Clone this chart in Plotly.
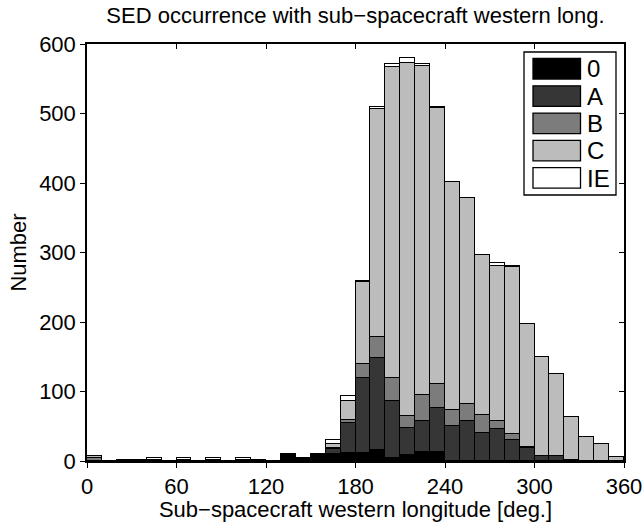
import plotly.graph_objects as go

# ---------------- data ----------------
bin_left = list(range(0, 360, 10))
bin_centers = [b + 5 for b in bin_left]
classes = ["0", "A", "B", "C", "IE"]
colors = ["#000000", "#363636", "#7c7c7c", "#bcbcbc", "#ffffff"]

n0 = [0, 0, 0, 0, 0, 0, 0, 0, 0, 0, 0, 0, 0, 10, 5, 10, 10, 12, 11, 16,
      5, 9, 13, 13, 0, 0, 0, 0, 0, 0, 0, 0, 0, 0, 0, 0]
nA = [0, 0, 1, 1, 0, 0, 0, 0, 0, 0, 0, 0, 0, 0, 0, 0, 7, 43, 108, 132,
      81, 38, 45, 63, 51, 58, 41, 46, 30, 19, 7, 7, 2, 0, 0, 0]
nB = [4, 0, 0, 0, 0, 0, 0, 0, 0, 0, 0, 2, 0, 0, 0, 0, 2, 4, 20, 30,
      34, 18, 37, 35, 23, 24, 25, 12, 9, 1, 0, 0, 0, 0, 0, 0]
nC = [3, 0, 0, 0, 1, 0, 1, 0, 1, 0, 1, 0, 0, 0, 0, 0, 5, 28, 118, 328,
      447, 507, 474, 397, 327, 296, 230, 223, 240, 177, 142, 118, 62, 34, 25, 6]
nIE = [0, 0, 0, 0, 3, 0, 3, 0, 3, 0, 3, 0, 0, 0, 0, 0, 6, 6, 2, 3,
       4, 8, 2, 1, 0, 0, 1, 4, 1, 0, 0, 0, 0, 0, 0, 0]
series = [n0, nA, nB, nC, nIE]

x_ticks = [0, 60, 120, 180, 240, 300, 360]
y_ticks = [0, 100, 200, 300, 400, 500, 600]

title_text = "SED occurrence with sub−spacecraft western long."
x_title = "Sub−spacecraft western longitude [deg.]"
y_title = "Number"

FONT = "Liberation Sans, Arial, Helvetica, sans-serif"
FS = 22

fig = go.Figure()
for name, col, vals in zip(classes, colors, series):
    fig.add_trace(go.Bar(
        x=bin_centers, y=vals, name=name, width=10,
        marker=dict(color=col, line=dict(color="black", width=1.3)),
        showlegend=False,
    ))

# dummy trace for mirrored (inside-tick) axes
fig.add_trace(go.Scatter(x=[None], y=[None], xaxis="x2", yaxis="y2",
                         showlegend=False, hoverinfo="skip"))

axis_common = dict(showgrid=False, zeroline=False, showline=True,
                   linecolor="black", linewidth=1.5, tickcolor="black",
                   tickwidth=1.3, ticklen=5, automargin=False)

fig.update_layout(
    width=644, height=522,
    margin=dict(l=87, r=20, t=44, b=61),
    paper_bgcolor="white", plot_bgcolor="white",
    barmode="stack", bargap=0,
    font=dict(family=FONT, size=FS, color="black"),
    title=dict(text=title_text, x=0.5, xref="paper", xanchor="center",
               y=1 - 15 / 522, yref="container", yanchor="middle",
               font=dict(size=FS, family=FONT, color="black")),
    xaxis=dict(range=[0, 360], tickvals=x_ticks, ticks="outside",
               title=dict(text=x_title, standoff=0, font=dict(size=FS)),
               **axis_common),
    yaxis=dict(range=[0, 600], tickvals=y_ticks, ticks="outside",
               title=dict(text=y_title, standoff=6, font=dict(size=FS)),
               **axis_common),
    xaxis2=dict(range=[0, 360], tickvals=x_ticks, ticks="inside",
                overlaying="x", side="top", showticklabels=False,
                **axis_common),
    yaxis2=dict(range=[0, 600], tickvals=y_ticks, ticks="inside",
                overlaying="y", side="right", showticklabels=False,
                **axis_common),
)

# custom legend (large swatches like the reference)
W, H = 537.0, 417.0
def px_x(px):
    return (px - 87) / W
def px_y(py):
    return (461 - py) / H

fig.add_shape(type="rect", xref="paper", yref="paper",
              x0=px_x(524), x1=px_x(616), y0=px_y(195), y1=px_y(52),
              line=dict(color="black", width=1.3), fillcolor="white", layer="above")
for i, (name, col) in enumerate(zip(classes, colors)):
    top = 58.5 + i * 27.3
    fig.add_shape(type="rect", xref="paper", yref="paper",
                  x0=px_x(533), x1=px_x(580.5), y0=px_y(top + 20.5), y1=px_y(top),
                  line=dict(color="black", width=1.3), fillcolor=col, layer="above")
    fig.add_annotation(xref="paper", yref="paper", x=px_x(585), y=px_y(top + 10.5),
                       text=name, showarrow=False, xanchor="left", yanchor="middle",
                       font=dict(size=24, family=FONT, color="black"))

fig.write_html("out.html")
